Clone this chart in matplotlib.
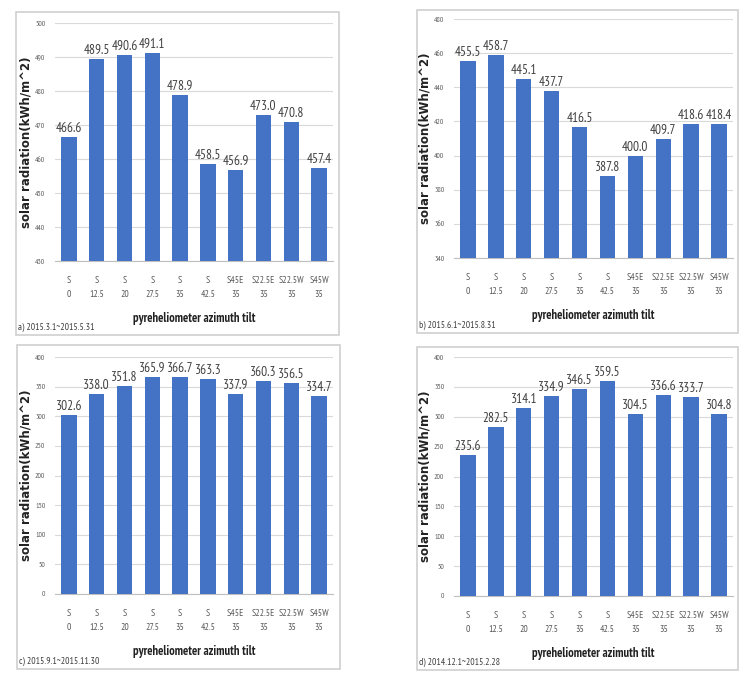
import matplotlib
matplotlib.use("Agg")
import matplotlib.pyplot as plt
from matplotlib.patches import Rectangle

NARROW = ['PT Sans Narrow', 'DejaVu Sans']
plt.rcParams['font.family'] = NARROW

categories = ["S\n0", "S\n12.5", "S\n20", "S\n27.5", "S\n35", "S\n42.5",
              "S45E\n35", "S22.5E\n35", "S22.5W\n35", "S45W\n35"]

values_a = [466.6, 489.5, 490.6, 491.1, 478.9, 458.5, 456.9, 473.0, 470.8, 457.4]
values_b = [455.5, 458.7, 445.1, 437.7, 416.5, 387.8, 400.0, 409.7, 418.6, 418.4]
values_c = [302.6, 338.0, 351.8, 365.9, 366.7, 363.3, 337.9, 360.3, 356.5, 334.7]
values_d = [235.6, 282.5, 314.1, 334.9, 346.5, 359.5, 304.5, 336.6, 333.7, 304.8]

captions = ["a) 2015.3.1~2015.5.31", "b) 2015.6.1~2015.8.31",
            "c) 2015.9.1~2015.11.30", "d) 2014.12.1~2015.2.28"]

ylims = [(430, 500, 10), (340, 480, 20), (0, 400, 50), (0, 400, 50)]

W, H = 750, 683
fig = plt.figure(figsize=(W / 100, H / 100), dpi=100)

# panel frame (pixel coords: left, top, right, bottom) and plot area
frames = [(16, 12, 339, 335), (417, 10, 738, 333), (17, 345, 340, 669), (417, 347, 738, 670)]
plots = [(55, 23, 333, 261), (454, 19, 733, 258), (55, 357, 333, 594), (454, 357, 733, 596)]

bar_color = "#4472C4"
series = [values_a, values_b, values_c, values_d]

for vals, cap, (lo, hi, step), fr, pl in zip(series, captions, ylims, frames, plots):
    fl, ft, frr, fb = fr
    fig.patches.append(Rectangle((fl / W, 1 - fb / H), (frr - fl) / W, (fb - ft) / H,
                                 transform=fig.transFigure, fill=False,
                                 edgecolor="#d0d0d0", linewidth=1.2))
    l, t, r, b = pl
    ax = fig.add_axes([l / W, 1 - b / H, (r - l) / W, (b - t) / H])
    x = list(range(len(categories)))
    ax.bar(x, vals, width=0.55, color=bar_color, zorder=3)
    ax.set_xlim(-0.5, len(categories) - 0.5)
    ax.set_ylim(lo, hi)
    ticks = list(range(lo, hi + 1, step))
    ax.set_yticks(ticks)
    ax.set_yticklabels([str(v) for v in ticks], fontsize=5.5, color="#595959")
    ax.set_xticks(x)
    ax.set_xticklabels(categories, fontsize=7, color="#595959", linespacing=1.7)
    ax.tick_params(axis="y", length=0, pad=7)
    ax.tick_params(axis="x", length=0, pad=11)
    ax.grid(axis="y", color="#d9d9d9", linewidth=0.8, zorder=0)
    for s in ["top", "right", "left"]:
        ax.spines[s].set_visible(False)
    ax.spines["bottom"].set_color("#bfbfbf")
    for xi, v in zip(x, vals):
        ax.text(xi, v + (hi - lo) * 0.008, f"{v:.1f}", ha="center", va="bottom",
                fontsize=9.5, color="#404040", zorder=4)
    ax.set_ylabel("solar radiation(kWh/m^2)", fontsize=8.5, fontweight="bold",
                  family=["DejaVu Sans"], color="#222222", labelpad=2)
    ax.set_xlabel("pyreheliometer azimuth tilt", fontsize=9, fontweight="bold",
                  color="#222222", labelpad=9)
    fig.text((fl + 2) / W, 1 - (fb - 8) / H, cap, fontsize=7, color="#404040",
             ha="left", va="center")

fig.savefig("out.png", dpi=100)
